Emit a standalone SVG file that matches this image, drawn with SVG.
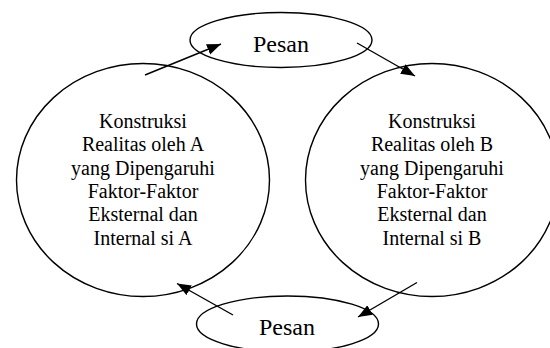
<svg xmlns="http://www.w3.org/2000/svg" width="550" height="348" viewBox="0 0 550 348">
<defs>
<style>
.shape{fill:none;stroke:#000;stroke-width:1.4}
.conn{fill:none;stroke:#000;stroke-width:1.4}
text{font-family:'Liberation Serif','Times New Roman',Times,serif;fill:#000;text-anchor:middle}
.lbl{font-size:20px}
.msg{font-size:24px}
</style>
<marker id="arr" markerUnits="userSpaceOnUse" markerWidth="15" markerHeight="12" refX="14" refY="5.5" orient="auto">
<path d="M0,0 L14,5.5 L0,11 z" fill="#000"/>
</marker>
</defs>
<rect width="550" height="348" fill="#fff"/>
<g id="pesan-top">
<ellipse class="shape" cx="281" cy="40" rx="91" ry="27.5"/>
<text class="msg" x="281" y="52">Pesan</text>
</g>
<g id="node-a">
<ellipse class="shape" cx="143" cy="180" rx="126.5" ry="116.5"/>
<text class="lbl" x="143" y="128">Konstruksi</text>
<text class="lbl" x="143" y="151.3">Realitas oleh A</text>
<text class="lbl" x="143" y="174.6">yang Dipengaruhi</text>
<text class="lbl" x="143" y="197.9">Faktor-Faktor</text>
<text class="lbl" x="143" y="221.2">Eksternal dan</text>
<text class="lbl" x="143" y="244.5">Internal si A</text>
</g>
<g id="node-b">
<ellipse class="shape" cx="432" cy="180" rx="126.5" ry="116.5"/>
<text class="lbl" x="432" y="128">Konstruksi</text>
<text class="lbl" x="432" y="151.3">Realitas oleh B</text>
<text class="lbl" x="432" y="174.6">yang Dipengaruhi</text>
<text class="lbl" x="432" y="197.9">Faktor-Faktor</text>
<text class="lbl" x="432" y="221.2">Eksternal dan</text>
<text class="lbl" x="432" y="244.5">Internal si B</text>
</g>
<g id="pesan-bottom">
<ellipse class="shape" cx="287.5" cy="324" rx="91" ry="28"/>
<text class="msg" x="287" y="335">Pesan</text>
</g>
<g id="connectors">
<line class="conn" x1="145" y1="75" x2="221" y2="44" marker-end="url(#arr)"/>
<line class="conn" x1="357" y1="43" x2="415" y2="76" marker-end="url(#arr)"/>
<line class="conn" x1="417" y1="282.5" x2="358" y2="317" marker-end="url(#arr)"/>
<line class="conn" x1="233" y1="315" x2="177" y2="283.5" marker-end="url(#arr)"/>
</g>
</svg>
